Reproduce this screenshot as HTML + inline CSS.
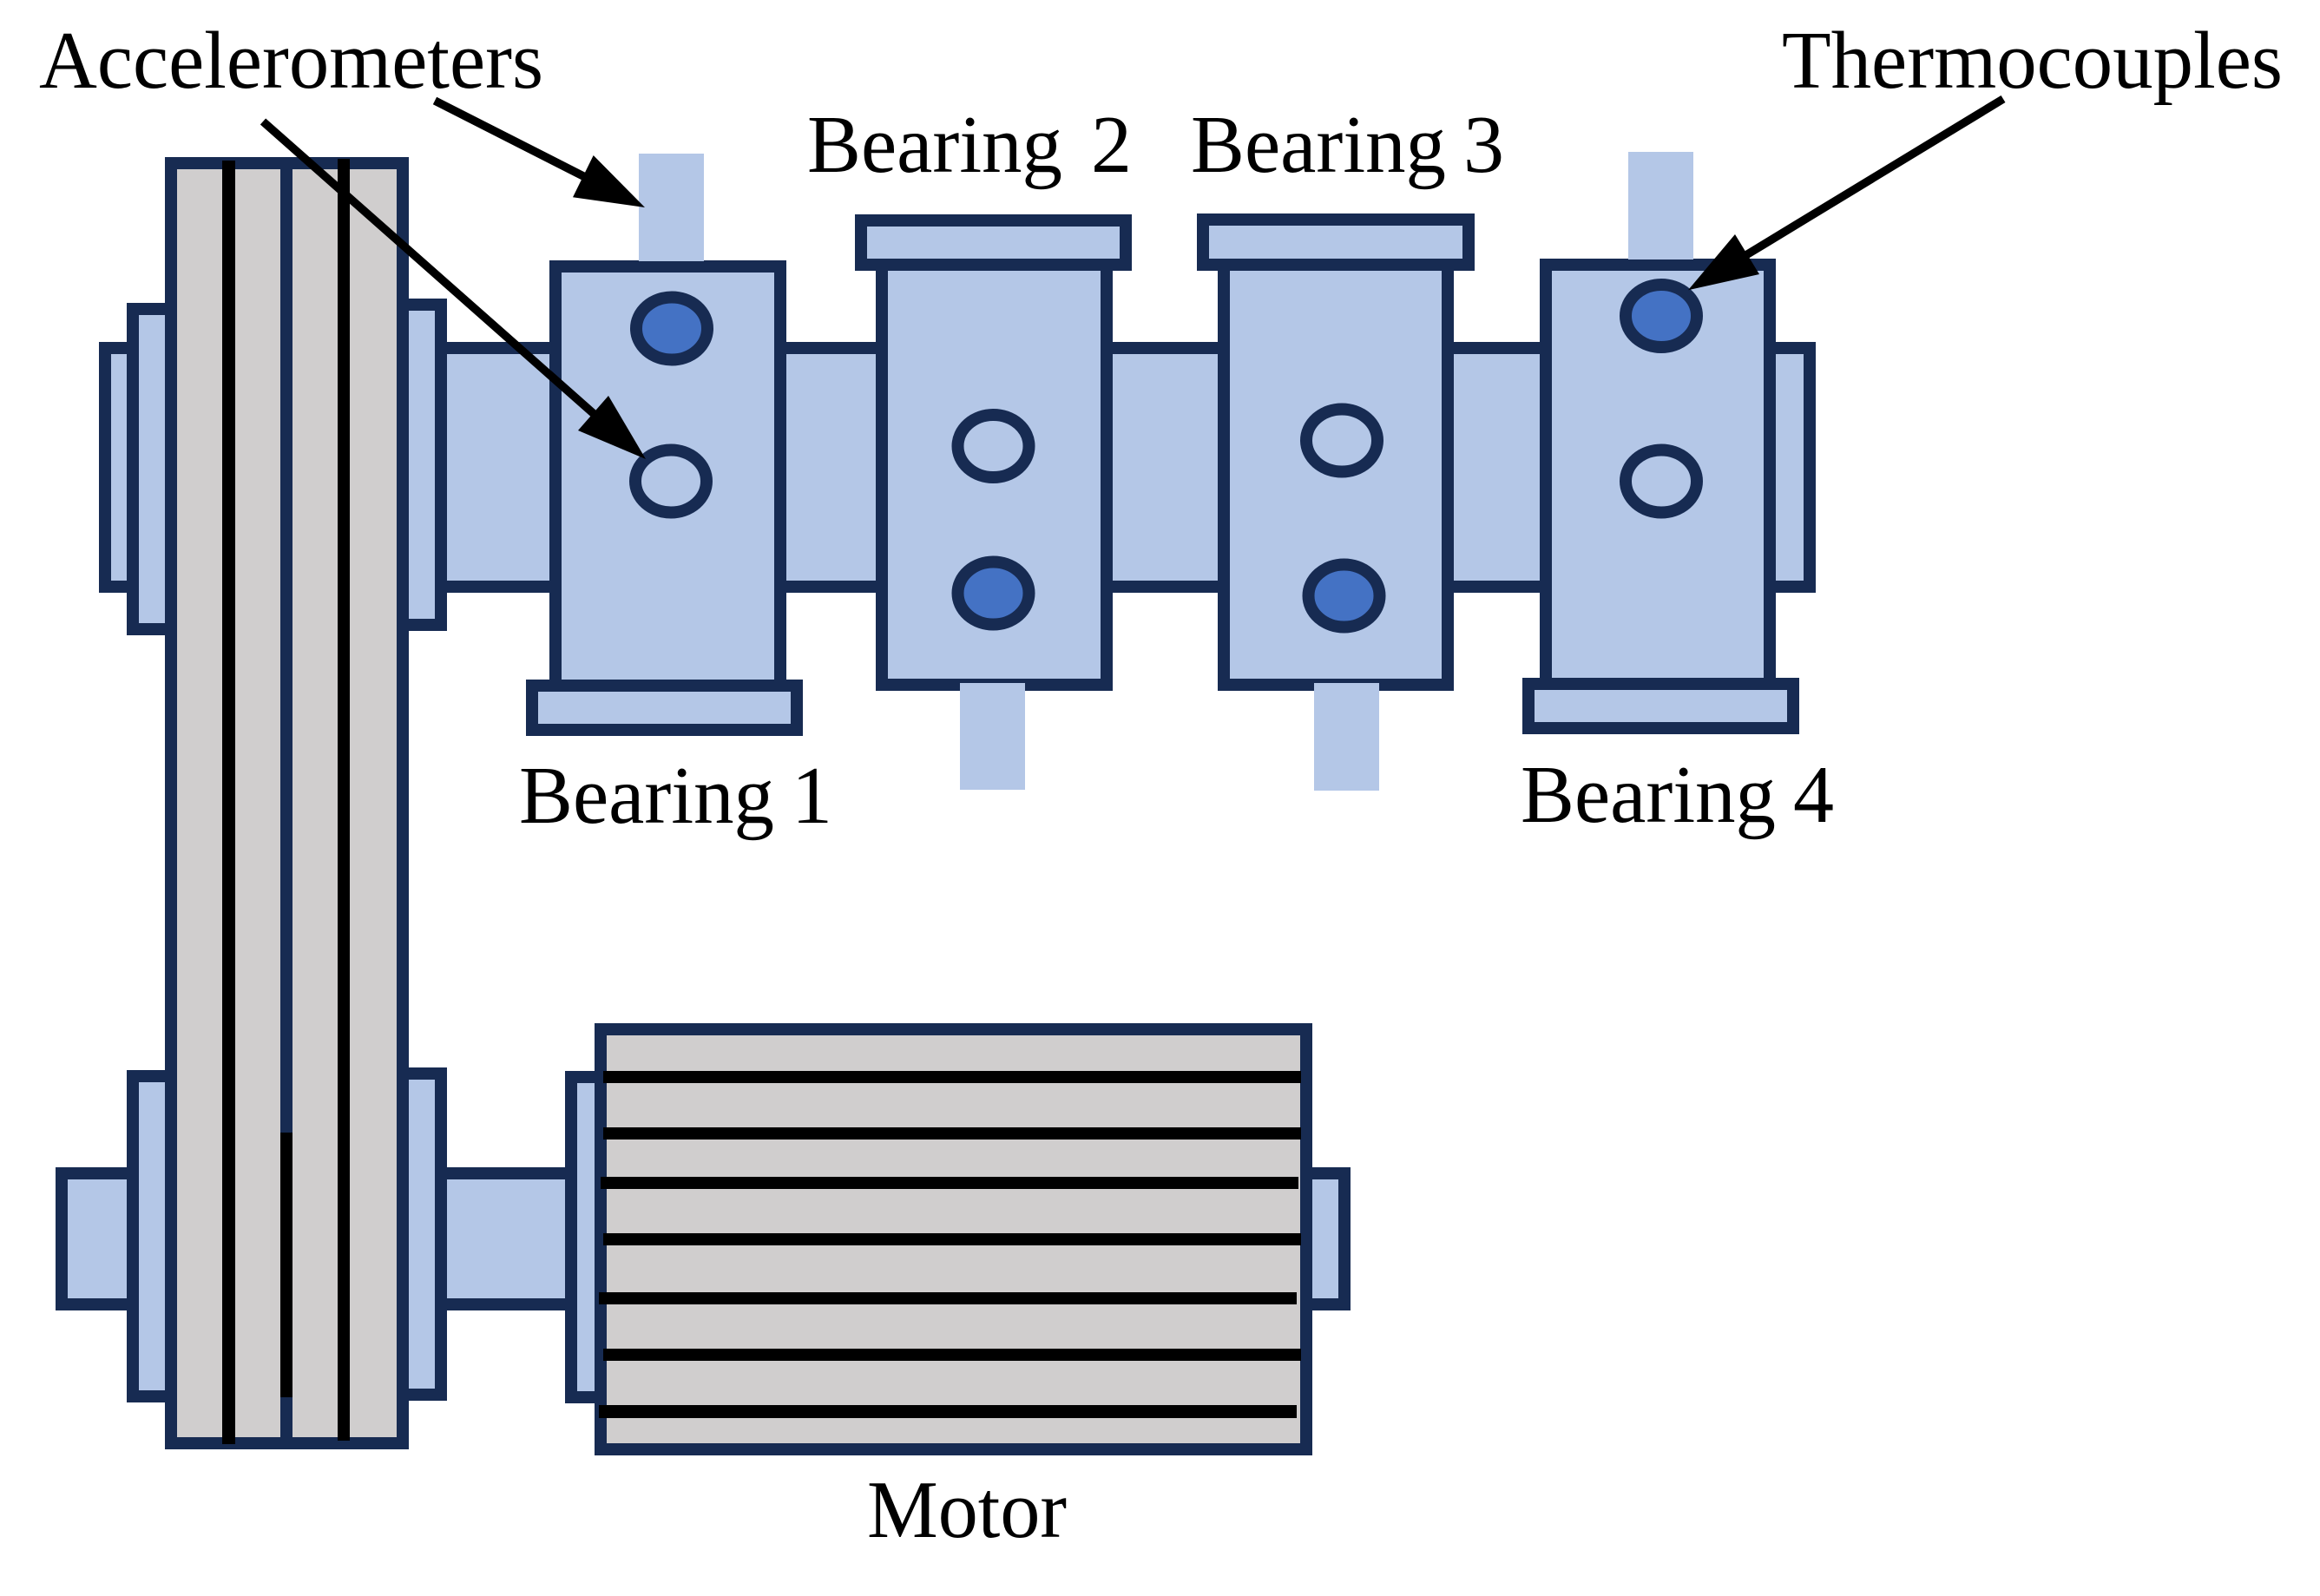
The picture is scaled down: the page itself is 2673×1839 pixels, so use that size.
<!DOCTYPE html>
<html>
<head>
<meta charset="utf-8">
<style>
html,body{margin:0;padding:0;background:#fff;}
svg{display:block;}
text{font-family:"Liberation Serif",serif;font-size:94px;fill:#000;}
.b{fill:#b4c7e7;stroke:#172b52;stroke-width:14;}
.g{fill:#d0cece;stroke:#172b52;stroke-width:14;}
.s{fill:#b4c7e7;}
.o{fill:#b4c7e7;stroke:#172b52;stroke-width:14;}
.f{fill:#4472c4;stroke:#172b52;stroke-width:14;}
.k{fill:#000;}
</style>
</head>
<body>
<svg xmlns="http://www.w3.org/2000/svg" width="2673" height="1839" viewBox="0 0 2673 1839">
<rect width="2673" height="1839" fill="#fff"/>

<!-- upper shaft -->
<rect class="b" x="480" y="401" width="1605" height="275"/>
<!-- upper left caps -->
<rect class="b" x="121" y="401" width="60" height="275"/>
<rect class="b" x="153" y="356" width="50" height="369"/>
<rect class="b" x="460" y="351" width="48" height="369"/>

<!-- lower shaft and caps -->
<rect class="b" x="71" y="1352" width="100" height="151"/>
<rect class="b" x="490" y="1352" width="180" height="151"/>
<rect class="b" x="1490" y="1352" width="59" height="151"/>
<rect class="b" x="153" y="1240" width="50" height="369"/>
<rect class="b" x="460" y="1237" width="48" height="370"/>
<rect class="b" x="658" y="1241" width="50" height="369"/>

<!-- belt -->
<rect class="g" x="197" y="188" width="267" height="1475"/>
<rect x="323" y="181" width="14" height="1489" fill="#172b52"/>
<rect class="k" x="323" y="1305" width="14" height="305"/>
<rect class="k" x="256" y="185" width="15" height="1479"/>
<rect class="k" x="389" y="183" width="14" height="1477"/>

<!-- bearing 1 -->
<rect class="b" x="640" y="307" width="259" height="489"/>
<rect class="b" x="613" y="790" width="305" height="51"/>
<rect class="s" x="736" y="177" width="75" height="124"/>
<ellipse class="f" cx="774" cy="378.5" rx="41" ry="36"/>
<ellipse class="o" cx="773" cy="554.5" rx="41" ry="36"/>

<!-- bearing 2 -->
<rect class="b" x="1016" y="305" width="259" height="484"/>
<rect class="b" x="992" y="254" width="305" height="51"/>
<rect class="s" x="1106" y="787" width="75" height="123"/>
<ellipse class="o" cx="1144.5" cy="514" rx="41" ry="36"/>
<ellipse class="f" cx="1144.5" cy="683.5" rx="41" ry="36"/>

<!-- bearing 3 -->
<rect class="b" x="1410" y="305" width="258" height="484"/>
<rect class="b" x="1386" y="253" width="306" height="52"/>
<rect class="s" x="1514" y="787" width="75" height="124"/>
<ellipse class="o" cx="1546" cy="507.5" rx="41" ry="36"/>
<ellipse class="f" cx="1548.5" cy="686.5" rx="41" ry="36"/>

<!-- bearing 4 -->
<rect class="b" x="1781" y="305" width="258" height="490"/>
<rect class="b" x="1761" y="788" width="305" height="51"/>
<rect class="s" x="1876" y="175" width="75" height="124"/>
<ellipse class="f" cx="1914" cy="364" rx="41" ry="36"/>
<ellipse class="o" cx="1914" cy="554.5" rx="41" ry="36"/>

<!-- motor -->
<rect class="g" x="692" y="1186" width="813" height="484"/>
<rect class="k" x="695" y="1234" width="804" height="14"/>
<rect class="k" x="695" y="1299" width="804" height="14"/>
<rect class="k" x="692" y="1356" width="804" height="14"/>
<rect class="k" x="695" y="1421" width="804" height="14"/>
<rect class="k" x="690" y="1489" width="804" height="14"/>
<rect class="k" x="695" y="1554" width="804" height="14"/>
<rect class="k" x="690" y="1619" width="804" height="15"/>

<!-- arrows -->
<line x1="501" y1="116" x2="680" y2="207" stroke="#000" stroke-width="9.5"/>
<polygon class="k" points="743,239 683.7,179 660,227.3"/>
<line x1="303" y1="140" x2="690" y2="482" stroke="#000" stroke-width="9.5"/>
<polygon class="k" points="744,529 701,456 666,496"/>
<line x1="2308" y1="114" x2="2010" y2="295" stroke="#000" stroke-width="9.5"/>
<polygon class="k" points="1945,334.3 1999,270 2027,316"/>

<!-- labels -->
<text x="45" y="101" textLength="581" lengthAdjust="spacingAndGlyphs">Accelerometers</text>
<text x="2053" y="101" textLength="577" lengthAdjust="spacingAndGlyphs">Thermocouples</text>
<text x="930" y="198" textLength="294" lengthAdjust="spacingAndGlyphs">Bearing</text>
<text x="1257" y="198">2</text>
<text x="1372" y="198" textLength="294" lengthAdjust="spacingAndGlyphs">Bearing</text>
<text x="1686" y="198">3</text>
<text x="598" y="948" textLength="294" lengthAdjust="spacingAndGlyphs">Bearing</text>
<text x="912" y="948">1</text>
<text x="1752" y="947" textLength="294" lengthAdjust="spacingAndGlyphs">Bearing</text>
<text x="2066" y="947">4</text>
<text x="999" y="1771" textLength="230" lengthAdjust="spacingAndGlyphs">Motor</text>
</svg>
</body>
</html>
